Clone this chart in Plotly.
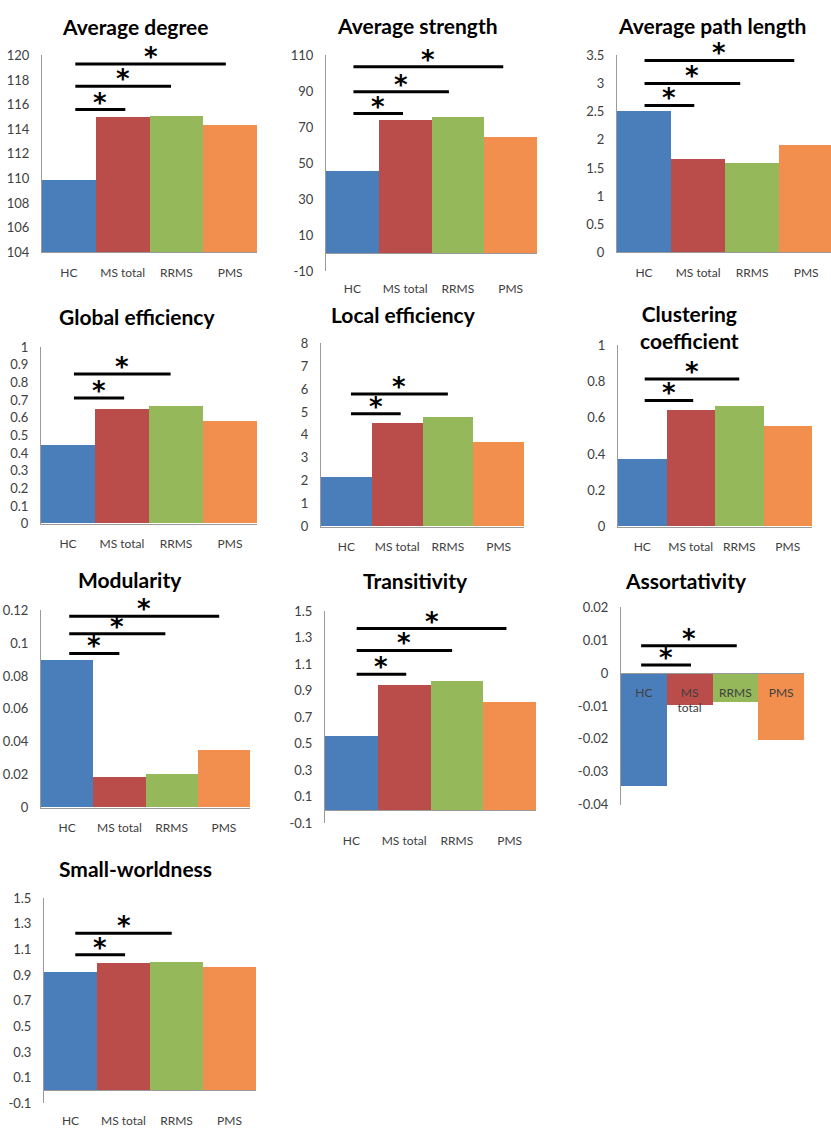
import plotly.graph_objects as go

W, H = 831, 1129

categories = ["HC", "MS total", "RRMS", "PMS"]
bar_colors = ["#4A7EBB", "#BA4D4A", "#95B95A", "#F28F4E"]

titles = ["Average degree", "Average strength", "Average path length",
          "Global efficiency", "Local efficiency", "Clustering<br>coefficient",
          "Modularity", "Transitivity", "Assortativity", "Small-worldness"]

avg_degree = [109.85, 115.0, 115.05, 114.3]
avg_strength = [45.7, 73.8, 75.8, 64.7]
avg_path_length = [2.51, 1.65, 1.58, 1.91]
global_eff = [0.445, 0.647, 0.664, 0.579]
local_eff = [2.15, 4.49, 4.75, 3.67]
clustering = [0.374, 0.641, 0.662, 0.554]
modularity = [0.0898, 0.0184, 0.0204, 0.0348]
transitivity = [0.56, 0.945, 0.975, 0.815]
assortativity = [-0.0344, -0.0099, -0.0089, -0.0206]
small_world = [0.925, 0.99, 1.0, 0.96]

# significance brackets: heights, start and end (category units)
sig_degree_y = [115.6, 117.5, 119.3];       sig_degree_x0 = 0.12;  sig_degree_x1 = [1.05, 1.9, 2.92]
sig_strength_y = [77.6, 89.8, 103.6];       sig_strength_x0 = 0.02; sig_strength_x1 = [0.96, 1.83, 2.86]
sig_path_y = [2.61, 3.0, 3.41];             sig_path_x0 = 0.01;    sig_path_x1 = [0.93, 1.78, 2.78]
sig_global_y = [0.712, 0.847];              sig_global_x0 = 0.11;  sig_global_x1 = [1.04, 1.9]
sig_local_y = [4.92, 5.78];                 sig_local_x0 = 0.09;   sig_local_x1 = [1.07, 2.0]
sig_clust_y = [0.695, 0.813];               sig_clust_x0 = 0.05;   sig_clust_x1 = [1.05, 2.0]
sig_mod_y = [0.0938, 0.1058, 0.1164];       sig_mod_x0 = 0.04;     sig_mod_x1 = [1.0, 1.88, 2.91]
sig_trans_y = [1.025, 1.205, 1.37];         sig_trans_x0 = 0.1;    sig_trans_x1 = [1.04, 1.91, 2.94]
sig_assort_y = [0.0025, 0.0083];            sig_assort_x0 = -0.06; sig_assort_x1 = [1.03, 2.03]
sig_small_y = [1.058, 1.226];               sig_small_x0 = 0.09;   sig_small_x1 = [1.03, 1.91]

# axis ranges / tick steps
y_ranges = [(104, 120, 2), (-10, 110, 20), (0, 3.5, 0.5), (0, 1, 0.1), (0, 8, 1),
            (0, 1, 0.2), (0, 0.12, 0.02), (-0.1, 1.5, 0.2), (-0.04, 0.02, 0.01), (-0.1, 1.5, 0.2)]

values = [avg_degree, avg_strength, avg_path_length, global_eff, local_eff,
          clustering, modularity, transitivity, assortativity, small_world]
sigs = [(sig_degree_y, sig_degree_x0, sig_degree_x1), (sig_strength_y, sig_strength_x0, sig_strength_x1),
        (sig_path_y, sig_path_x0, sig_path_x1), (sig_global_y, sig_global_x0, sig_global_x1),
        (sig_local_y, sig_local_x0, sig_local_x1), (sig_clust_y, sig_clust_x0, sig_clust_x1),
        (sig_mod_y, sig_mod_x0, sig_mod_x1), (sig_trans_y, sig_trans_x0, sig_trans_x1),
        (sig_assort_y, sig_assort_x0, sig_assort_x1), (sig_small_y, sig_small_x0, sig_small_x1)]

# plot boxes in pixels: (left, right, top, bottom)
boxes = [(42, 257, 48, 248), (326, 537, 48, 267), (617, 831, 48, 248),
         (41, 257, 344, 523), (321, 524, 340, 526), (618, 812, 342, 526),
         (41, 250, 611, 811), (325, 536, 612, 827), (621, 804, 608, 808),
         (44, 256, 903, 1111)]
title_pos = [(135, 19), (417, 18), (712, 18), (137, 313), (403, 311), (689, 324),
             (130, 580), (415, 581), (686, 581), (135, 873)]

AX = "#9A9A9A"
XTICK_FONT = dict(family="Lato, Open Sans, sans-serif", size=12, color="#404040")
YTICK_FONT = dict(family="Lato, Open Sans, sans-serif", size=13, color="#404040")

fig = go.Figure()
annotations = []

for i in range(10):
    n = "" if i == 0 else str(i + 1)
    xa, ya = "x" + n, "y" + n
    l, r, t, b = boxes[i]
    ymin, ymax, step = y_ranges[i]
    nt = int(round((ymax - ymin) / step))
    tv = [round(ymin + k * step, 6) for k in range(nt + 1)]
    tt = [format(v, "g") for v in tv]
    crosses_zero = ymin < 0

    fig.add_trace(go.Bar(x=list(range(4)), y=values[i], width=1.0,
                         marker=dict(color=bar_colors, line=dict(width=0)),
                         xaxis=xa, yaxis=ya, showlegend=False, hoverinfo="skip"))

    sy, sx0, sx1 = sigs[i]
    lx, ly = [], []
    for yy, x1 in zip(sy, sx1):
        lx += [sx0, x1, None]
        ly += [yy, yy, None]
        annotations.append(dict(x=(sx0 + x1) / 2, y=yy, xref=xa, yref=ya,
                                text="<b>*</b>", showarrow=False, yshift=7,
                                font=dict(family="DejaVu Sans", size=26, color="black")))
    fig.add_trace(go.Scatter(x=lx, y=ly, mode="lines", line=dict(color="black", width=3),
                             xaxis=xa, yaxis=ya, showlegend=False, hoverinfo="skip"))

    xkw = dict(domain=[l / W, r / W], range=[-0.5, 3.5], anchor=ya,
               tickvals=list(range(4)), ticktext=categories, showgrid=False,
               zeroline=False, ticks="", tickfont=XTICK_FONT, ticklabelstandoff=9,
               showline=True, linecolor=AX, linewidth=1)
    if i == 2:
        xkw["range"] = [-0.5, 3.46]
    if crosses_zero:
        if i == 8:
            xkw["ticktext"] = [c.replace(" ", "<br>") for c in categories]
            xkw["anchor"] = "free"
            zero_px = t + (ymax - 0) / (ymax - ymin) * (b - t)
            xkw["position"] = 1 - zero_px / H
            xkw["ticklabelstandoff"] = 8
        else:
            xkw["showline"] = False
    ykw = dict(domain=[1 - b / H, 1 - t / H], range=[ymin, ymax], anchor=xa,
               tickvals=tv, ticktext=tt, showgrid=False, ticks="",
               tickfont=YTICK_FONT, ticklabelstandoff=9,
               showline=True, linecolor=AX, linewidth=1,
               zeroline=crosses_zero and i != 8, zerolinecolor=AX, zerolinewidth=1)
    fig.layout["xaxis" + n] = xkw
    fig.layout["yaxis" + n] = ykw

    tx, tyy = title_pos[i]
    annotations.append(dict(x=tx / W, y=1 - tyy / H, xref="paper", yref="paper",
                            text="<b>" + titles[i] + "</b>", showarrow=False,
                            xanchor="center", yanchor="middle",
                            font=dict(family="Lato, Open Sans, sans-serif", size=21, color="black")))

fig.update_layout(width=W, height=H, margin=dict(l=0, r=0, t=0, b=0),
                  paper_bgcolor="white", plot_bgcolor="rgba(0,0,0,0)",
                  bargap=0, showlegend=False, annotations=annotations)

fig.write_html("out.html", config={"displayModeBar": False},
               post_script="document.body.style.margin='0';document.body.style.overflow='hidden';")
